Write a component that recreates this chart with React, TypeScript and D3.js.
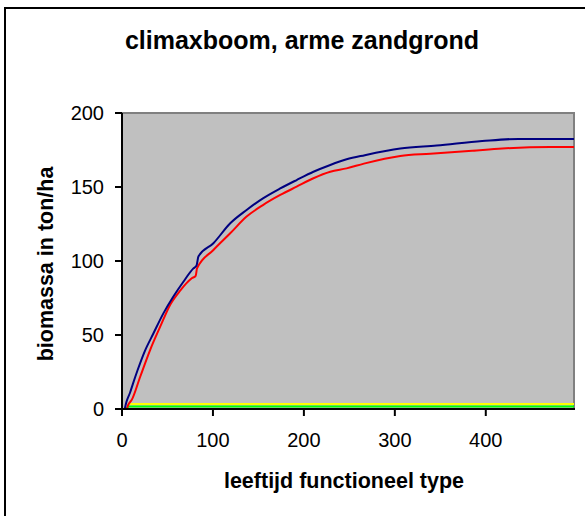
import React from "react";
import * as d3 from "d3";

const title = "climaxboom, arme zandgrond";
const xLabel = "leeftijd functioneel type";
const yLabel = "biomassa in ton/ha";
const xTicks = [0, 100, 200, 300, 400];
const yTicks = [0, 50, 100, 150, 200];
const xMax = 497;

const blueAge = [3, 5, 8.8, 12, 17, 25, 34.5, 45.5, 56.5, 67.5, 78.5, 82, 84, 100.5, 119, 137, 155, 174, 192, 210.5, 229, 247, 267, 306, 346, 396, 436, 497];
const blueVal = [0, 5, 11, 17, 26, 39, 51, 64.6, 76, 86, 95, 97, 103, 112, 125.5, 134.5, 142.3, 149, 154.7, 160.3, 164.9, 168.7, 171.5, 176, 178, 181, 182.5, 182.5];
const redAge = [0, 5, 7, 10.6, 20, 31, 42, 53, 64, 76.7, 81, 82.5, 100.5, 119, 137, 155, 174, 192, 210.5, 229, 247, 266, 306, 339, 385, 418, 471, 497];
const redVal = [0, 0, 3, 6, 21.8, 40, 55.6, 70.5, 80, 88.3, 90, 95, 107.4, 118.7, 130, 137.8, 144.6, 150.2, 155.9, 160.3, 162.6, 165.8, 171, 172.5, 174.5, 176, 177, 177];
const greenAge = [4, 8, 497];
const greenVal = [0, 1.7, 1.7];
const yellowAge = [9, 497];
const yellowVal = [3.3, 3.3];

const series = [
  { name: "yellow", age: yellowAge, val: yellowVal, color: "#FFFF00" },
  { name: "green", age: greenAge, val: greenVal, color: "#00FF00" },
  { name: "red", age: redAge, val: redVal, color: "#FF0000" },
  { name: "blue", age: blueAge, val: blueVal, color: "#000080" },
];

export default function App() {
  const W = 585, H = 516;
  const left = 122, right = 574, top = 113, bottom = 409;
  const x = d3.scaleLinear().domain([0, xMax]).range([left, right]);
  const y = d3.scaleLinear().domain([0, 200]).range([bottom, top]);
  const line = d3.line<[number, number]>().x(d => x(d[0])).y(d => y(d[1])).curve(d3.curveMonotoneX);
  const font = "'Liberation Sans', Arial, sans-serif";
  return (
    <svg width={W} height={H} style={{ position: "absolute", left: 0, top: 0, background: "#fff" }} fontFamily={font}>
      <rect x={0} y={0} width={W} height={H} fill="#fff" />
      <rect x={5} y={8} width={640} height={600} fill="none" stroke="#000" strokeWidth={2} />
      <text x={302} y={49} textAnchor="middle" fontSize={25} fontWeight="bold">{title}</text>
      <rect x={left} y={top} width={right - left} height={bottom - top} fill="#C0C0C0" stroke="#808080" strokeWidth={2} />
      <g>
        {series.map(s => (
          <path key={s.name} d={line(s.age.map((a, i) => [a, s.val[i]] as [number, number])) || ""} fill="none" stroke={s.color} strokeWidth={2} />
        ))}
      </g>
      <line x1={left} x2={left} y1={top} y2={bottom + 1} stroke="#000" strokeWidth={2} />
      <line x1={left - 1} x2={right + 1} y1={bottom} y2={bottom} stroke="#000" strokeWidth={2} />
      {yTicks.map(t => (
        <g key={"y" + t}>
          <line x1={left - 7} x2={left} y1={y(t)} y2={y(t)} stroke="#000" strokeWidth={2} />
          <text x={104} y={y(t) + 7} textAnchor="end" fontSize={20}>{t}</text>
        </g>
      ))}
      {xTicks.map(t => (
        <g key={"x" + t}>
          <line x1={x(t)} x2={x(t)} y1={bottom} y2={bottom + 7} stroke="#000" strokeWidth={2} />
          <text x={x(t)} y={447} textAnchor="middle" fontSize={20}>{t}</text>
        </g>
      ))}
      <text x={344} y={488} textAnchor="middle" fontSize={21.5} fontWeight="bold">{xLabel}</text>
      <text transform={`translate(53,264) rotate(-90)`} textAnchor="middle" fontSize={21.5} fontWeight="bold">{yLabel}</text>
    </svg>
  );
}
